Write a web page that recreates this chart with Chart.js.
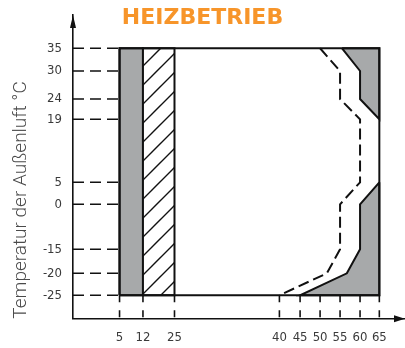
<!DOCTYPE html>
<html><head><meta charset="utf-8">
<script src="https://cdn.jsdelivr.net/npm/chart.js@4/dist/chart.umd.min.js"></script>
<style>html,body{margin:0;padding:0;background:#fff}</style>
</head><body>
<canvas id="c" width="405" height="348"></canvas>
<script>
// ---- data ----
const xTickValues = [5, 12, 25, 40, 45, 50, 55, 60, 65];
const yTickValues = [35, 30, 24, 19, 5, 0, -15, -20, -25];

const boxX = [5, 5, 65, 65, 5];
const boxY = [-25, 35, 35, -25, -25];

const grayBandX = [5, 5, 12, 12, 5];
const grayBandY = [-25, 35, 35, -25, -25];

const hatchBandX = [12, 12, 25, 25, 12];
const hatchBandY = [-25, 35, 35, -25, -25];

const grayTopX = [55.5, 60, 60, 65, 65, 55.5];
const grayTopY = [35, 30, 24, 19, 35, 35];

const grayBottomX = [65, 60, 60, 56.7, 45, 65, 65];
const grayBottomY = [5, 0, -15, -20, -25, -25, 5];

const dashedLimitX = [50, 55, 55, 60, 60, 55, 55, 51.7, 40];
const dashedLimitY = [35, 30, 24, 19, 5, 0, -15, -20, -25];

const X_MIN = 0, X_MAX = 71.4, Y_MIN = -30, Y_MAX = 42.5;

// ---- piecewise scale (the reference axes are not uniformly spaced) ----
class PiecewiseScale extends Chart.LinearScale {
  static id = 'piecewise';
  _frac(value) {
    const b = this.options.breaks;
    let i = 1;
    while (i < b.length - 1 && value > b[i][0]) i++;
    const v0 = b[i-1][0], f0 = b[i-1][1], v1 = b[i][0], f1 = b[i][1];
    return f0 + (value - v0) * (f1 - f0) / (v1 - v0);
  }
  getPixelForValue(value) {
    if (value === null || value === undefined || isNaN(value)) return NaN;
    return this.getPixelForDecimal(this._frac(value));
  }
  getValueForPixel(pixel) {
    const f = this.getDecimalForPixel(pixel);
    const b = this.options.breaks;
    let i = 1;
    while (i < b.length - 1 && f > b[i][1]) i++;
    const v0 = b[i-1][0], f0 = b[i-1][1], v1 = b[i][0], f1 = b[i][1];
    return v0 + (f - f0) * (v1 - v0) / (f1 - f0);
  }
}
Chart.register(PiecewiseScale);

const pts = (xs, ys) => xs.map((x, i) => ({x: x, y: ys[i]}));

// hatch pattern
function hatchPattern() {
  const s = 19;
  const c = document.createElement('canvas');
  c.width = s; c.height = s;
  const g = c.getContext('2d');
  g.fillStyle = '#fff'; g.fillRect(0, 0, s, s);
  g.strokeStyle = '#111'; g.lineWidth = 1.4;
  g.beginPath();
  g.moveTo(-2, s + 2); g.lineTo(s + 2, -2);
  g.moveTo(-2, 2); g.lineTo(2, -2);
  g.moveTo(s - 2, s + 2); g.lineTo(s + 2, s - 2);
  g.stroke();
  return g.createPattern(c, 'repeat');
}

const BLACK = '#111111';
const GRAY = '#a7a9aa';
const lineBase = {showLine: true, pointRadius: 0, pointHoverRadius: 0, tension: 0, fill: false};

const datasets = [
  Object.assign({}, lineBase, {label: 'limit dashed', data: pts(dashedLimitX, dashedLimitY), borderColor: BLACK, borderWidth: 2, borderDash: [11, 5]}),
  Object.assign({}, lineBase, {label: 'box', data: pts(boxX, boxY), borderColor: BLACK, borderWidth: 2}),
  Object.assign({}, lineBase, {label: 'gray top', data: pts(grayTopX, grayTopY), borderColor: BLACK, borderWidth: 2, backgroundColor: GRAY, fill: 'shape'}),
  Object.assign({}, lineBase, {label: 'gray bottom', data: pts(grayBottomX, grayBottomY), borderColor: BLACK, borderWidth: 2, backgroundColor: GRAY, fill: 'shape'}),
  Object.assign({}, lineBase, {label: 'hatch', data: pts(hatchBandX, hatchBandY), borderColor: BLACK, borderWidth: 2, backgroundColor: hatchPattern(), fill: 'shape'}),
  Object.assign({}, lineBase, {label: 'gray band', data: pts(grayBandX, grayBandY), borderColor: BLACK, borderWidth: 2, backgroundColor: GRAY, fill: 'shape'})
];
yTickValues.forEach(v => datasets.push(Object.assign({}, lineBase, {
  label: 'hguide ' + v, data: [{x: X_MIN, y: v}, {x: xTickValues[0], y: v}],
  borderColor: BLACK, borderWidth: 1.6, borderDash: [11, 6]})));
xTickValues.forEach(v => datasets.push(Object.assign({}, lineBase, {
  label: 'vguide ' + v, data: [{x: v, y: yTickValues[yTickValues.length - 1]}, {x: v, y: Y_MIN}],
  borderColor: BLACK, borderWidth: 1.6, borderDash: [7, 8]})));

const tickFont = {family: "'Liberation Sans Narrow','DejaVu Sans Condensed','Liberation Sans',sans-serif", size: 13};

const arrows = {
  id: 'arrows',
  afterDraw(chart) {
    const a = chart.chartArea, ctx = chart.ctx;
    ctx.save();
    ctx.fillStyle = BLACK;
    ctx.beginPath();
    ctx.moveTo(a.left, a.top);
    ctx.lineTo(a.left - 3, a.top + 13);
    ctx.lineTo(a.left + 3, a.top + 13);
    ctx.closePath();
    ctx.fill();
    ctx.beginPath();
    ctx.moveTo(a.right, a.bottom);
    ctx.lineTo(a.right - 11, a.bottom - 3.5);
    ctx.lineTo(a.right - 11, a.bottom + 3.5);
    ctx.closePath();
    ctx.fill();
    ctx.restore();
  }
};

new Chart(document.getElementById('c'), {
  type: 'scatter',
  data: {datasets: datasets},
  plugins: [arrows],
  options: {
    responsive: false,
    devicePixelRatio: 1,
    animation: false,
    events: [],
    layout: {padding: 0},
    plugins: {
      legend: {display: false},
      tooltip: {enabled: false},
      title: {
        display: true, text: 'HEIZBETRIEB', color: '#f7952a',
        font: {family: "'DejaVu Sans', sans-serif", weight: 'bold', size: 22, lineHeight: 1.2},
        padding: {top: 5.3, bottom: -16.7}
      }
    },
    scales: {
      x: {
        type: 'piecewise', position: 'bottom', min: X_MIN, max: X_MAX, bounds: 'data',
        breaks: [[0, 0], [5, 0.1402], [12, 0.2107], [25, 0.3057], [40, 0.6217], [45, 0.6840], [50, 0.7442], [55, 0.8044], [60, 0.8646], [65, 0.9227], [71.4, 1]],
        afterBuildTicks: s => { s.ticks = xTickValues.map(v => ({value: v})); },
        afterFit: s => { s.height = 29.3; s.paddingLeft = 0; s.paddingRight = 0; },
        grid: {display: false, drawTicks: false},
        border: {display: true, color: BLACK, width: 1.6},
        ticks: {autoSkip: false, maxRotation: 0, minRotation: 0, padding: 11.5, color: '#3a3a3a', font: tickFont, callback: v => String(v)}
      },
      y: {
        type: 'piecewise', position: 'left', min: Y_MIN, max: Y_MAX, bounds: 'data',
        breaks: [[-30, 0], [-25, 0.0771], [-20, 0.1495], [-15, 0.2285], [0, 0.3767], [5, 0.4491], [19, 0.6566], [24, 0.7234], [30, 0.8156], [35, 0.8904], [42.5, 1]],
        afterBuildTicks: s => { s.ticks = yTickValues.slice().reverse().map(v => ({value: v})); },
        afterFit: s => { s.width = 73; s.paddingTop = 0; s.paddingBottom = 0; },
        grid: {display: false, drawTicks: false},
        border: {display: true, color: BLACK, width: 1.6},
        ticks: {autoSkip: false, padding: 11, color: '#3a3a3a', font: tickFont, callback: v => String(v)},
        title: {
          display: true, text: 'Temperatur der Außenluft °C', align: 'start', color: '#4a4a4a',
          font: {family: "Roboto, 'Liberation Sans', sans-serif", weight: '300', size: 19, lineHeight: 1.2},
          padding: {top: 9.6, bottom: 0}
        }
      }
    }
  }
});
</script>
</body></html>
